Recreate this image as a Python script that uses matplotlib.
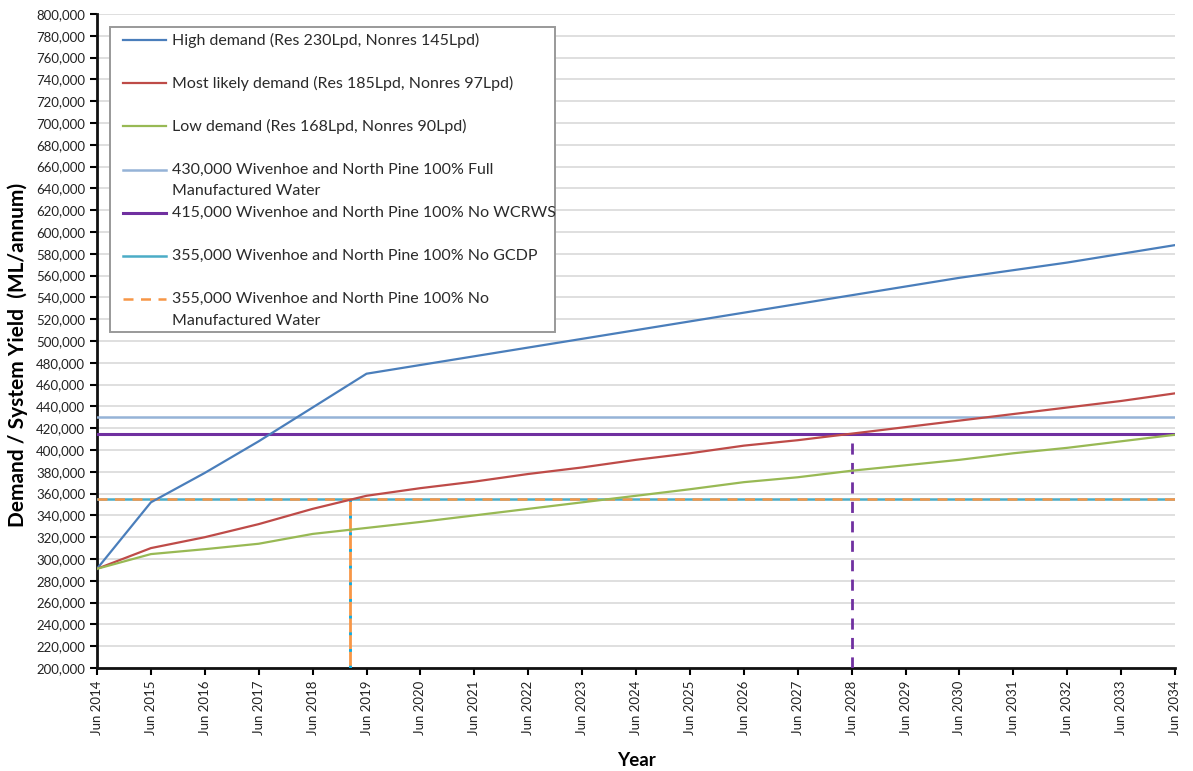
import matplotlib
matplotlib.use("Agg")
import matplotlib.pyplot as plt
from matplotlib.lines import Line2D
from matplotlib.patches import Rectangle
from matplotlib.ticker import FuncFormatter, MultipleLocator

plt.rcParams['font.family'] = ['Lato', 'DejaVu Sans']

years = [f"Jun {y}" for y in range(2014, 2035)]
high = [291000, 352000, 379000, 408000, 439000, 470000, 478000, 486000, 494000, 502000,
        510000, 518000, 526000, 534000, 542000, 550000, 558000, 565000, 572000, 580000, 588000]
likely = [291000, 310000, 320000, 332000, 346000, 358000, 365000, 371000, 378000, 384000,
          391000, 397000, 404000, 409000, 415000, 421000, 427000, 433000, 439000, 445000, 452000]
low = [291000, 304500, 309000, 314000, 323000, 328500, 334000, 340000, 346000, 352000,
       358000, 364000, 370500, 375000, 381000, 386000, 391000, 397000, 402000, 408000, 414000]
yield_full = 430000
yield_no_wcrws = 415000
yield_no_gcdp = 355000
yield_no_mw = 355000
cross_gcdp_x = 4.69   # position where most likely demand reaches 355,000
cross_wcrws_x = 14.0  # Jun 2028

labels = ["High demand (Res 230Lpd, Nonres 145Lpd)",
          "Most likely demand (Res 185Lpd, Nonres 97Lpd)",
          "Low demand (Res 168Lpd, Nonres 90Lpd)",
          "430,000 Wivenhoe and North Pine 100% Full\nManufactured Water",
          "415,000 Wivenhoe and North Pine 100% No WCRWS",
          "355,000 Wivenhoe and North Pine 100% No GCDP",
          "355,000 Wivenhoe and North Pine 100% No\nManufactured Water"]

W, H = 1193, 771
fig = plt.figure(figsize=(W / 100, H / 100), dpi=100)
ax = fig.add_axes([0.0813, 0.1336, 0.9037, 0.8482])

x = list(range(len(years)))
xe = [0, len(years) - 1]

styles = [dict(color='#4A7EBB', lw=1.6, zorder=5),
          dict(color='#BE4B48', lw=1.6, zorder=5),
          dict(color='#98B954', lw=1.6, zorder=5),
          dict(color='#95B3D7', lw=1.8, zorder=4),
          dict(color='#7030A0', lw=2.2, zorder=4),
          dict(color='#4BACC6', lw=1.8, zorder=4),
          dict(color='#F79646', lw=1.8, ls=(0, (4, 3)), zorder=4)]

ax.plot(x, high, **styles[0])
ax.plot(x, likely, **styles[1])
ax.plot(x, low, **styles[2])
ax.plot(xe, [yield_full] * 2, **styles[3])
ax.plot(xe, [yield_no_wcrws] * 2, **styles[4])
ax.plot(xe, [yield_no_gcdp] * 2, **styles[5])
ax.plot(xe, [yield_no_mw] * 2, **styles[6])

# vertical drop lines
ax.plot([cross_gcdp_x] * 2, [200000, yield_no_gcdp], color='#F79646', lw=2.0, zorder=4)
ax.plot([cross_gcdp_x] * 2, [200000, yield_no_gcdp], color='#00B0F0', lw=2.0,
        ls=(0, (1, 5)), zorder=4)
ax.plot([cross_wcrws_x] * 2, [200000, yield_no_wcrws], color='#7030A0', lw=2.0,
        ls=(0, (4, 3)), zorder=4)

ax.set_xlim(0, len(years) - 1)
ax.set_ylim(200000, 800000)
ax.set_xticks(x)
ax.set_xticklabels(years, rotation=90, fontsize=9.5, color='#222222')
ax.yaxis.set_major_locator(MultipleLocator(20000))
ax.yaxis.set_major_formatter(FuncFormatter(lambda v, p: f"{int(v):,}"))
ax.tick_params(axis='y', labelsize=9.5, labelcolor='#222222', direction='out', length=5, width=1.5)
ax.tick_params(axis='x', direction='out', length=5, width=1.5, pad=4)

ax.grid(axis='y', color='#D9D9D9', lw=1.2)
ax.set_axisbelow(True)
for s in ['top', 'right']:
    ax.spines[s].set_visible(False)
for s in ['left', 'bottom']:
    ax.spines[s].set_linewidth(2)
    ax.spines[s].set_color('#111111')

ax.set_ylabel("Demand / System Yield  (ML/annum)", fontsize=15, fontweight='bold')
ax.yaxis.set_label_coords(-0.064, 0.478)
ax.set_xlabel("Year", fontsize=13.5, fontweight='bold')
ax.xaxis.set_label_coords(0.5, -0.128)

# legend box laid out like the original (equal slot per entry, key on first line)
def fx(px):
    return px / W


def fy(py):
    return 1 - py / H


fig.add_artist(Rectangle((fx(110), fy(332)), fx(555) - fx(110), fy(27) - fy(332),
                         transform=fig.transFigure, facecolor='white', edgecolor='#999999',
                         lw=1.4, zorder=10))
slot_top, slot_step, line_step = 40, 43.2, 21.6
for i, (lab, st) in enumerate(zip(labels, styles)):
    yc = slot_top + i * slot_step
    st2 = {k: v for k, v in st.items() if k != 'zorder'}
    fig.add_artist(Line2D([fx(123), fx(166)], [fy(yc), fy(yc)], transform=fig.transFigure,
                          zorder=11, **st2))
    for j, line in enumerate(lab.split("\n")):
        fig.text(fx(172), fy(yc + j * line_step), line, fontsize=11.5, color='#2a2a2a',
                 va='center', ha='left', zorder=11)

fig.savefig("out.png", dpi=100)
